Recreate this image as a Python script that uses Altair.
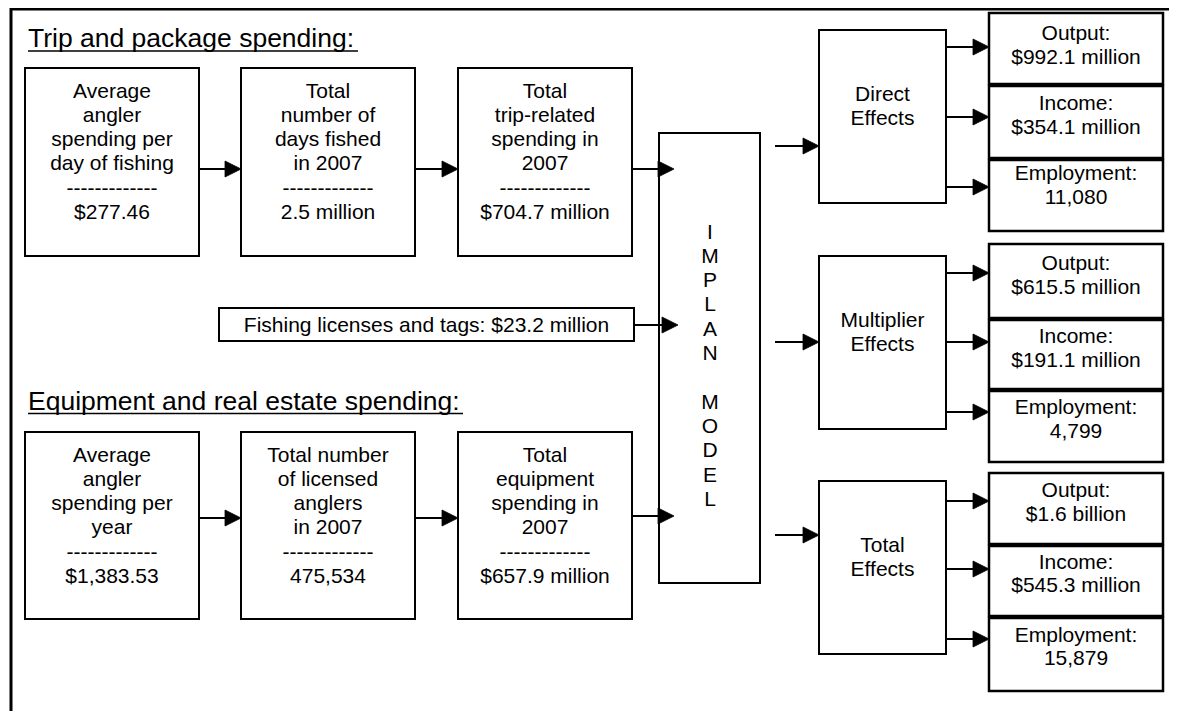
import altair as alt
import pandas as pd

# ---------------- text content ----------------
section_titles = ["Trip and package spending:", "Equipment and real estate spending:"]
trip_labels = [["Average", "angler", "spending per", "day of fishing"],
               ["Total", "number of", "days fished", "in 2007"],
               ["Total", "trip-related", "spending in", "2007"]]
trip_values = ["$277.46", "2.5 million", "$704.7 million"]
equip_labels = [["Average", "angler", "spending per", "year"],
                ["Total number", "of licensed", "anglers", "in 2007"],
                ["Total", "equipment", "spending in", "2007"]]
equip_values = ["$1,383.53", "475,534", "$657.9 million"]
separator = "-------------"
license_text = "Fishing licenses and tags: $23.2 million"
model_name = "IMPLAN MODEL"
effect_names = [["Direct", "Effects"], ["Multiplier", "Effects"], ["Total", "Effects"]]
metric_names = ["Output:", "Income:", "Employment:"]
effect_values = [["$992.1 million", "$354.1 million", "11,080"],
                 ["$615.5 million", "$191.1 million", "4,799"],
                 ["$1.6 billion", "$545.3 million", "15,879"]]

# ---------------- layout (diagram geometry, pixels) ----------------
step_cols = [(25, 199), (241, 415), (458, 632)]
step_rows = [(68, 256), (432, 619)]
step_arrow_y = [169, 518]
model_arrow_y = [169, 516]
title_pos = [(28, 47, 358), (28, 409.5, 463)]
model_box = (659, 760, 133, 583)
license_box = (219, 634, 308, 341)
license_arrow_y = 325
effect_box_x = (819, 946)
effect_rows = [(30, 203), (256, 429), (481, 654)]
effect_in_y = [146, 342, 535]
out_box_x = (989, 1163)
out_rows = [[(13, 84), (86, 158), (160, 231)],
            [(244, 318), (320, 389), (391, 462)],
            [(473, 544), (546, 616), (618, 691)]]
out_arrow_y = [[47, 117, 187], [273, 342, 412], [501, 569, 639]]
out_text_y = [[40, 110, 180], [270, 343, 414], [497, 568.5, 641.5]]
LINE = 24.3
FS = 21

rects, rules, heads, texts, titles = [], [], [], [], []


def arrow(x1, x2, y):
    rules.append(dict(x=x1, x2=x2 - 4, y=y, y2=y, sw=2))
    heads.append(dict(x=x2, y=y))


# frame (left and top)
rules.append(dict(x=11, x2=11, y=0, y2=719, sw=3))
rules.append(dict(x=10, x2=1177, y=9, y2=9, sw=3))

# titles
for t, (tx, ty, ux) in zip(section_titles, title_pos):
    titles.append(dict(x=tx, y=ty, text=t))
    rules.append(dict(x=tx, x2=ux, y=ty + 4, y2=ty + 4, sw=1.5))

# step boxes
for r, (labels_row, values_row) in enumerate([(trip_labels, trip_values), (equip_labels, equip_values)]):
    y1, y2 = step_rows[r]
    for c, (x1, x2) in enumerate(step_cols):
        rects.append(dict(x=x1, x2=x2, y=y1, y2=y2, sw=2))
        lines = labels_row[c] + [separator, values_row[c]]
        for i, ln in enumerate(lines):
            texts.append(dict(x=(x1 + x2) / 2, y=y1 + 29.5 + i * LINE, text=ln))
        if c < 2:
            arrow(x2, step_cols[c + 1][0], step_arrow_y[r])
        else:
            arrow(x2, model_box[0] + 15, model_arrow_y[r])

# license box
lx1, lx2, ly1, ly2 = license_box
rects.append(dict(x=lx1, x2=lx2, y=ly1, y2=ly2, sw=2))
texts.append(dict(x=(lx1 + lx2) / 2, y=331.5, text=license_text))
arrow(lx2, model_box[0] + 19, license_arrow_y)

# model box
mx1, mx2, my1, my2 = model_box
rects.append(dict(x=mx1, x2=mx2, y=my1, y2=my2, sw=2))
for i, ch in enumerate(model_name):
    if ch != " ":
        texts.append(dict(x=(mx1 + mx2) / 2 + 0.5, y=238.5 + i * LINE, text=ch))

# effects
ex1, ex2 = effect_box_x
ox1, ox2 = out_box_x
for g in range(3):
    y1, y2 = effect_rows[g]
    rects.append(dict(x=ex1, x2=ex2, y=y1, y2=y2, sw=2))
    for i, ln in enumerate(effect_names[g]):
        texts.append(dict(x=(ex1 + ex2) / 2, y=y1 + 70.5 + i * 24, text=ln))
    arrow(775, ex1, effect_in_y[g])
    for k in range(3):
        b1, b2 = out_rows[g][k]
        rects.append(dict(x=ox1, x2=ox2, y=b1, y2=b2, sw=2.5))
        arrow(ex2, ox1, out_arrow_y[g][k])
        ty = out_text_y[g][k]
        texts.append(dict(x=(ox1 + ox2) / 2, y=ty, text=metric_names[k]))
        texts.append(dict(x=(ox1 + ox2) / 2, y=ty + 23.5, text=effect_values[g][k]))

X = alt.Scale(domain=[8, 1169], zero=False, nice=False)
Y = alt.Scale(domain=[8, 711], zero=False, nice=False, reverse=True)

rect_layer = alt.Chart(pd.DataFrame(rects)).mark_rect(fill="white", stroke="black").encode(
    x=alt.X("x:Q", scale=X, axis=None), x2="x2:Q",
    y=alt.Y("y:Q", scale=Y, axis=None), y2="y2:Q",
    strokeWidth=alt.StrokeWidth("sw:Q", scale=None),
)
rule_layer = alt.Chart(pd.DataFrame(rules)).mark_rule(color="black").encode(
    x=alt.X("x:Q", scale=X, axis=None), x2="x2:Q",
    y=alt.Y("y:Q", scale=Y, axis=None), y2="y2:Q",
    strokeWidth=alt.StrokeWidth("sw:Q", scale=None),
)
head_layer = alt.Chart(pd.DataFrame(heads)).mark_point(
    shape="M0,0L-2,-1L-2,1Z", size=256, filled=True, fill="black",
    stroke="black", strokeWidth=0.8, opacity=1,
).encode(
    x=alt.X("x:Q", scale=X, axis=None),
    y=alt.Y("y:Q", scale=Y, axis=None),
)
text_layer = alt.Chart(pd.DataFrame(texts)).mark_text(
    font="Liberation Sans", fontSize=FS, align="center", baseline="alphabetic", color="black",
).encode(
    x=alt.X("x:Q", scale=X, axis=None),
    y=alt.Y("y:Q", scale=Y, axis=None),
    text="text:N",
)
title_layer = alt.Chart(pd.DataFrame(titles)).mark_text(
    font="Liberation Sans", fontSize=26.5, align="left", baseline="alphabetic", color="black",
).encode(
    x=alt.X("x:Q", scale=X, axis=None),
    y=alt.Y("y:Q", scale=Y, axis=None),
    text="text:N",
)

chart = alt.layer(rect_layer, rule_layer, head_layer, text_layer, title_layer).properties(
    width=1161, height=703, padding=0, autosize=alt.AutoSizeParams(type="none"),
    background="white",
).configure_view(stroke=None)

chart.save("out.html", embed_options={"renderer": "svg", "actions": False})
